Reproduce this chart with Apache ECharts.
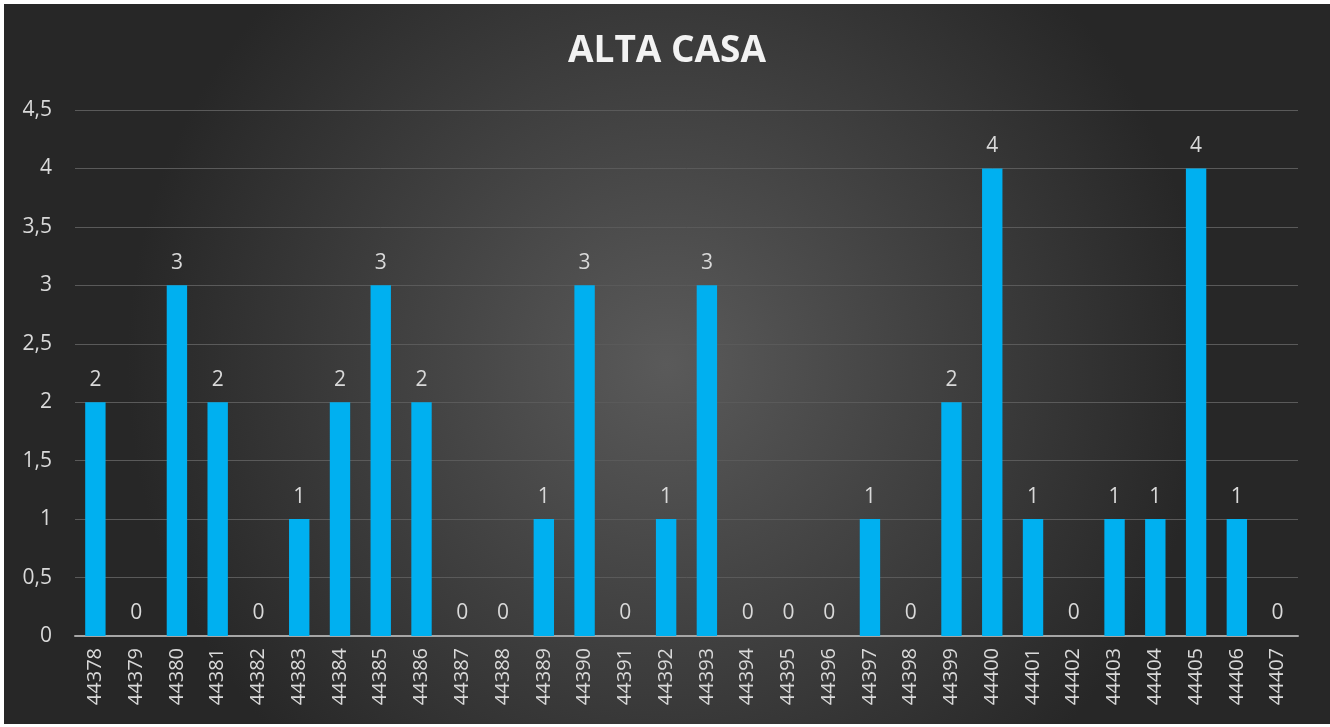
<!DOCTYPE html>
<html>
<head>
<meta charset="utf-8">
<script src="https://cdn.jsdelivr.net/npm/echarts@6/dist/echarts.min.js"></script>
<style>
  html, body { margin: 0; padding: 0; background: #fff; }
  #chart { position: absolute; left: 4px; top: 4px; width: 1326px; height: 720px; }
</style>
</head>
<body>
<div id="chart"></div>
<script>
const categories = ['44378', '44379', '44380', '44381', '44382', '44383', '44384', '44385', '44386', '44387',
  '44388', '44389', '44390', '44391', '44392', '44393', '44394', '44395', '44396', '44397',
  '44398', '44399', '44400', '44401', '44402', '44403', '44404', '44405', '44406', '44407']
const values = [2, 0, 3, 2, 0, 1, 2, 3, 2, 0,
  0, 1, 3, 0, 1, 3, 0, 0, 0, 1,
  0, 2, 4, 1, 0, 1, 1, 4, 1, 0]
const title = 'ALTA CASA'

const chart = echarts.init(document.getElementById('chart'))

const option = {
  backgroundColor: {
    type: 'radial', x: 0.5, y: 0.5, r: 0.75,
    colorStops: [
      { offset: 0, color: '#5a5a5a' },
      { offset: 1, color: '#272727' }
    ]
  },
  textStyle: { fontFamily: 'Open Sans' },
  title: {
    text: title,
    left: 'center',
    top: 24,
    textStyle: { color: '#f2f2f2', fontSize: 37, fontWeight: 'bold', fontFamily: 'Open Sans' }
  },
  grid: { left: 71, right: 32, top: 106, bottom: 88 },
  xAxis: {
    type: 'category',
    data: categories,
    axisLine: { lineStyle: { color: '#a6a6a6', width: 2 } },
    axisTick: { show: false },
    axisLabel: { rotate: 90, color: '#d9d9d9', fontSize: 20, margin: 12 }
  },
  yAxis: {
    type: 'value',
    min: 0,
    max: 4.5,
    interval: 0.5,
    axisLine: { show: false },
    axisTick: { show: false },
    splitLine: { lineStyle: { color: '#5a5a5a', width: 1 } },
    axisLabel: {
      color: '#d9d9d9',
      fontSize: 21,
      margin: 23,
      formatter: v => String(v).replace('.', ',')
    }
  },
  series: [{
    type: 'bar',
    data: values,
    barWidth: '50%',
    itemStyle: { color: '#00b0f0' },
    label: { show: true, position: 'top', color: '#d9d9d9', fontSize: 21, distance: 12 }
  }]
}

chart.setOption(option)
</script>
</body>
</html>
